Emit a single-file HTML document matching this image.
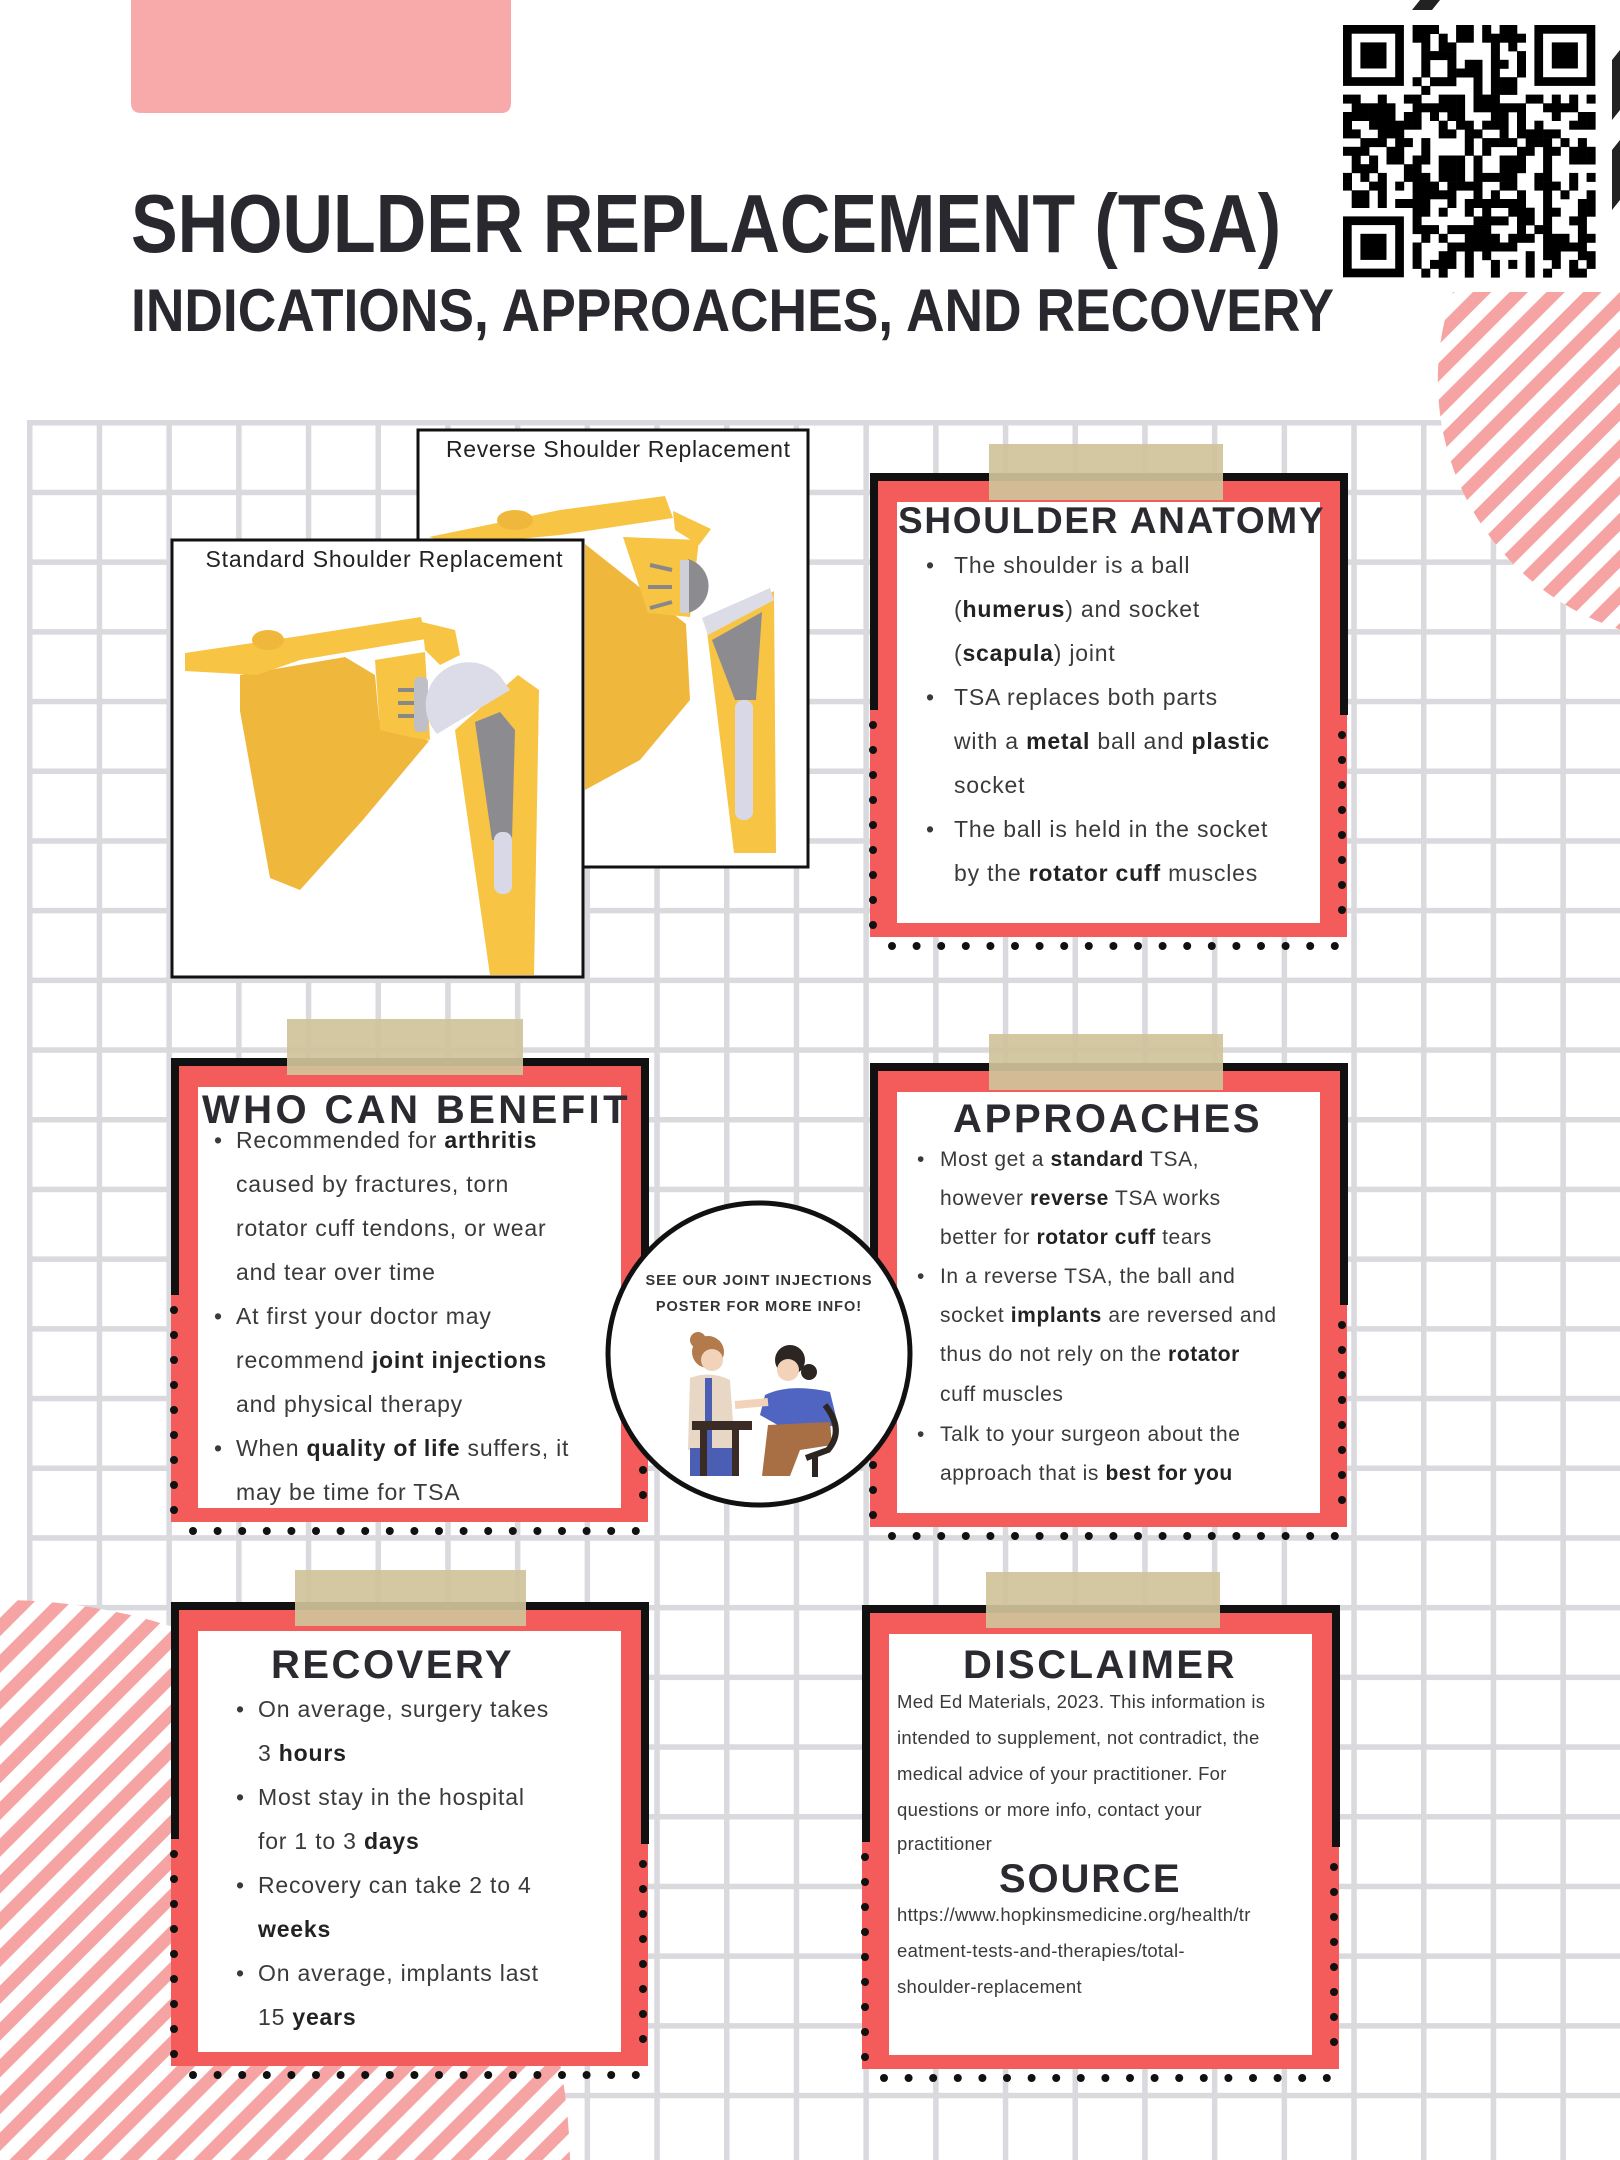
<!DOCTYPE html>
<html><head><meta charset="utf-8"><style>
html,body{margin:0;padding:0;background:#fff;width:1620px;height:2160px;overflow:hidden;position:relative;}
svg{display:block;}
text{font-family:"Liberation Sans",sans-serif;}
.t{font-weight:700;fill:#2a2a30;letter-spacing:2.5px;}
.b{fill:#3a3a3c;font-size:23px;letter-spacing:0.8px;}
.s{fill:#3a3a3c;font-size:21px;letter-spacing:0.6px;}
.d{fill:#3a3a3c;font-size:18.5px;letter-spacing:0.3px;}
tspan.k{font-weight:700;fill:#222;}
</style></head><body>
<svg id="S" width="1620" height="2160" viewBox="0 0 1620 2160" xmlns="http://www.w3.org/2000/svg" style="position:absolute;left:0;top:0">
<defs>
<pattern id="grid" x="27" y="420" width="69.7" height="69.7" patternUnits="userSpaceOnUse">
<rect width="69.7" height="69.7" fill="#fff"/>
<rect x="0" y="0" width="5.5" height="69.7" fill="#d9d9de"/>
<rect x="0" y="0" width="69.7" height="5.5" fill="#d9d9de"/>
</pattern>
<pattern id="str" width="26" height="26" patternUnits="userSpaceOnUse" patternTransform="rotate(45)">
<rect width="26" height="26" fill="#fff"/><rect width="13" height="26" fill="#f6a3a3"/>
</pattern>
</defs>
<rect width="1620" height="2160" fill="#fff"/>
<rect x="27" y="420" width="1593" height="1740" fill="url(#grid)"/>
<path d="M1453,292 A262,262 0 0 0 1620,629.5 L1620,292 Z" fill="url(#str)"/>
<path d="M0,1600 A570,570 0 0 1 570,2160 L0,2160 Z" fill="url(#str)"/>
<g fill="#222"><polygon points="1612,60 1620,50 1620,110 1612,120"/><polygon points="1612,150 1620,140 1620,200 1612,210"/><polygon points="1420,0 1440,0 1432,10 1412,10"/></g>
<path d="M131,0 L511,0 L511,103 Q511,113 501,113 L141,113 Q131,113 131,103 Z" fill="#f8a9a9"/>
<text x="131" y="252" font-size="83" font-weight="700" fill="#28282e" textLength="1150" lengthAdjust="spacingAndGlyphs">SHOULDER REPLACEMENT (TSA)</text>
<text x="131" y="331" font-size="60" font-weight="700" fill="#28282e" textLength="1203" lengthAdjust="spacingAndGlyphs">INDICATIONS, APPROACHES, AND RECOVERY</text>
<g id="qr"></g>

<rect x="418" y="430" width="390" height="437" fill="#fff" stroke="#111" stroke-width="3"/>
<text x="618" y="457" font-size="23" text-anchor="middle" fill="#222" textLength="344">Reverse Shoulder Replacement</text>
<g>
<polygon points="585,544 686,624 690,700 640,760 585,790" fill="#efb83c"/>
<polygon points="429,537 560,510 665,496 673,518 560,535 455,545" fill="#f7c444"/>
<ellipse cx="515" cy="520" rx="18" ry="10" fill="#efb83c"/>
<polygon points="673,511 711,529 699,545 675,530" fill="#f7c444"/>
<polygon points="623,537 699,540 690,617 648,613" fill="#f7c444"/>
<g stroke="#888" stroke-width="4"><line x1="650" y1="565" x2="672" y2="570"/><line x1="648" y1="587" x2="672" y2="587"/><line x1="650" y1="608" x2="672" y2="602"/></g>
<path d="M688,559 A28,28 0 0 1 688,613 Z" fill="#8c8c90"/><rect x="680" y="560" width="9" height="53" fill="#cfcfd8"/>
<polygon points="707,631 774,591 776,853 734,853" fill="#f7c444"/>
<polygon points="702,618 770,588 774,600 708,635" fill="#dcdce6"/>
<polygon points="712,640 762,612 756,700 735,700" fill="#8c8c90"/>
<rect x="735" y="700" width="18" height="120" rx="8" fill="#d8d8e6"/>
</g>

<rect x="172" y="540" width="411" height="437" fill="#fff" stroke="#111" stroke-width="3"/>
<text x="384" y="567" font-size="23" text-anchor="middle" fill="#222" textLength="357">Standard Shoulder Replacement</text>
<g>
<polygon points="240,675 345,657 375,675 379,719 429,741 362,821 300,890 270,878 240,711" fill="#efb83c"/>
<polygon points="185,653 300,636 421,617 426,639 300,660 257,675 185,671" fill="#f7c444"/>
<ellipse cx="268" cy="640" rx="16" ry="10" fill="#efb83c"/>
<polygon points="422,622 455,630 460,655 440,665 425,650" fill="#f7c444"/>
<polygon points="375,660 425,652 430,740 414,738 380,730" fill="#f7c444"/>
<g stroke="#888" stroke-width="4"><line x1="398" y1="690" x2="415" y2="690"/><line x1="398" y1="703" x2="415" y2="703"/><line x1="398" y1="716" x2="415" y2="716"/></g>
<rect x="414" y="677" width="14" height="55" rx="5" fill="#bfbfc8"/>
<polygon points="455,730 518,675 539,690 534,975 490,975" fill="#f7c444"/>
<path d="M437,734 A38,38 0 0 1 500,676 L510,690 Z" fill="#dcdce8"/>
<polygon points="475,722 500,712 515,730 512,840 492,840" fill="#8c8c90"/>
<rect x="494" y="832" width="18" height="62" rx="8" fill="#d8d8e6"/>
</g>

<g id="cards"></g>

<circle cx="759" cy="1354" r="151" fill="#fff" stroke="#111" stroke-width="5"/>
<text x="759" y="1285" font-size="14.5" font-weight="700" text-anchor="middle" fill="#333" letter-spacing="1">SEE OUR JOINT INJECTIONS</text>
<text x="759" y="1311" font-size="14.5" font-weight="700" text-anchor="middle" fill="#333" letter-spacing="1">POSTER FOR MORE INFO!</text>
<g>
<circle cx="708" cy="1352" r="16" fill="#b37a4c"/><circle cx="698" cy="1340" r="8" fill="#b37a4c"/>
<circle cx="712" cy="1360" r="11" fill="#f2d2b8"/>
<path d="M690,1378 Q710,1370 730,1380 L735,1450 L688,1450 Z" fill="#e7d7c4"/>
<rect x="705" y="1378" width="7" height="70" fill="#4a5fb3"/>
<rect x="690" y="1448" width="44" height="28" fill="#4a5fb3"/>
<rect x="692" y="1421" width="60" height="9" fill="#3a2b24"/>
<rect x="700" y="1428" width="7" height="48" fill="#3a2b24"/><rect x="732" y="1428" width="7" height="48" fill="#3a2b24"/>
<circle cx="790" cy="1360" r="15" fill="#2d2522"/><circle cx="809" cy="1372" r="8" fill="#2d2522"/>
<circle cx="788" cy="1370" r="11" fill="#f2d2b8"/>
<path d="M765,1395 Q790,1383 830,1392 L838,1425 L790,1432 L760,1415 Z" fill="#5065c2"/>
<path d="M768,1425 L830,1422 L832,1445 L800,1450 L790,1476 L762,1476 Z" fill="#a86f44"/>
<path d="M825,1405 Q845,1430 828,1450 L806,1458" stroke="#2d2522" stroke-width="6" fill="none"/>
<rect x="812" y="1455" width="6" height="22" fill="#2d2522"/>
<path d="M735,1405 L768,1402" stroke="#f2d2b8" stroke-width="8"/>
</g>
</svg>
<script>
(function(){
var NS="http://www.w3.org/2000/svg",S=document.getElementById("S");
function el(t,a,p){var e=document.createElementNS(NS,t);for(var k in a)e.setAttribute(k,a[k]);(p||S).appendChild(e);return e;}
var q=document.getElementById("qr"),x0=1343,y0=25,m=8.7,N=29,seed=7;
function rnd(){seed=(seed*9301+49297)%233280;return seed/233280;}
el("rect",{x:x0-4,y:y0-4,width:N*m+8,height:N*m+8,fill:"#fff"},q);
function fin(cx,cy){el("rect",{x:x0+cx*m,y:y0+cy*m,width:7*m,height:7*m,fill:"#000"},q);el("rect",{x:x0+(cx+1)*m,y:y0+(cy+1)*m,width:5*m,height:5*m,fill:"#fff"},q);el("rect",{x:x0+(cx+2)*m,y:y0+(cy+2)*m,width:3*m,height:3*m,fill:"#000"},q);}
for(var i=0;i<N;i++)for(var j=0;j<N;j++){var inF=(i<8&&j<8)||(i>=N-8&&j<8)||(i<8&&j>=N-8);if(inF)continue;if(rnd()<0.5)el("rect",{x:(x0+i*m).toFixed(1),y:(y0+j*m).toFixed(1),width:m+0.3,height:m+0.3,fill:"#000"},q);}
fin(0,0);fin(N-7,0);fin(0,N-7);
var C=document.getElementById("cards");
function card(x,y,tx,tw,ty){
 el("rect",{x:x,y:y,width:477,height:464,fill:"#f45b5b"},C);
 el("rect",{x:x+27,y:y+29,width:423,height:421,fill:"#fff"},C);
 el("rect",{x:x,y:y,width:478,height:8,fill:"#111"},C);
 el("rect",{x:x,y:y,width:8,height:237,fill:"#111"},C);
 el("rect",{x:x+470,y:y,width:8,height:242,fill:"#111"},C);
 for(var yy=y+252;yy<=y+468;yy+=25)el("circle",{cx:x+3,cy:yy,r:4,fill:"#111"},C);
 for(var yy2=y+262;yy2<=y+460;yy2+=25)el("circle",{cx:x+472,cy:yy2,r:4,fill:"#111"},C);
 for(var xx=x+22;xx<=x+465;xx+=24.6)el("circle",{cx:xx,cy:y+473,r:4,fill:"#111"},C);
 el("rect",{x:tx,y:ty,width:tw,height:56,fill:"#cfc39a",opacity:"0.92"},C);
}
card(870,473,989,234,444);
card(171,1058,287,236,1019);
card(870,1063,989,234,1034);
card(171,1602,295,231,1570);
card(862,1605,986,234,1572);
})();
</script>
<svg width="1620" height="2160" style="position:absolute;left:0;top:0;pointer-events:none" xmlns="http://www.w3.org/2000/svg">
<text class="t" x="898" y="533" font-size="37" textLength="428">SHOULDER ANATOMY</text>
<g class="b">
<text x="926" y="573">•</text><text x="954" y="573">The shoulder is a ball</text>
<text x="954" y="617">(<tspan class="k">humerus</tspan>) and socket</text>
<text x="954" y="661">(<tspan class="k">scapula</tspan>) joint</text>
<text x="926" y="705">•</text><text x="954" y="705">TSA replaces both parts</text>
<text x="954" y="749">with a <tspan class="k">metal</tspan> ball and <tspan class="k">plastic</tspan></text>
<text x="954" y="793">socket</text>
<text x="926" y="837">•</text><text x="954" y="837">The ball is held in the socket</text>
<text x="954" y="881">by the <tspan class="k">rotator cuff</tspan> muscles</text>
</g>
<text class="t" x="202" y="1123" font-size="40" textLength="428">WHO CAN BENEFIT</text>
<g class="b">
<text x="214" y="1148">•</text><text x="236" y="1148">Recommended for <tspan class="k">arthritis</tspan></text>
<text x="236" y="1192">caused by fractures, torn</text>
<text x="236" y="1236">rotator cuff tendons, or wear</text>
<text x="236" y="1280">and tear over time</text>
<text x="214" y="1324">•</text><text x="236" y="1324">At first your doctor may</text>
<text x="236" y="1368">recommend <tspan class="k">joint injections</tspan></text>
<text x="236" y="1412">and physical therapy</text>
<text x="214" y="1456">•</text><text x="236" y="1456">When <tspan class="k">quality of life</tspan> suffers, it</text>
<text x="236" y="1500">may be time for TSA</text>
</g>
<text class="t" x="953" y="1132" font-size="40" textLength="309">APPROACHES</text>
<g class="s">
<text x="917" y="1166">•</text><text x="940" y="1166">Most get a <tspan class="k">standard</tspan> TSA,</text>
<text x="940" y="1205">however <tspan class="k">reverse</tspan> TSA works</text>
<text x="940" y="1244">better for <tspan class="k">rotator cuff</tspan> tears</text>
<text x="917" y="1283">•</text><text x="940" y="1283">In a reverse TSA, the ball and</text>
<text x="940" y="1322">socket <tspan class="k">implants</tspan> are reversed and</text>
<text x="940" y="1361">thus do not rely on the <tspan class="k">rotator</tspan></text>
<text x="940" y="1401">cuff muscles</text>
<text x="917" y="1441">•</text><text x="940" y="1441">Talk to your surgeon about the</text>
<text x="940" y="1480">approach that is <tspan class="k">best for you</tspan></text>
</g>
<text class="t" x="271" y="1678" font-size="40" textLength="243">RECOVERY</text>
<g class="b">
<text x="236" y="1717">•</text><text x="258" y="1717">On average, surgery takes</text>
<text x="258" y="1761">3 <tspan class="k">hours</tspan></text>
<text x="236" y="1805">•</text><text x="258" y="1805">Most stay in the hospital</text>
<text x="258" y="1849">for 1 to 3 <tspan class="k">days</tspan></text>
<text x="236" y="1893">•</text><text x="258" y="1893">Recovery can take 2 to 4</text>
<text x="258" y="1937"><tspan class="k">weeks</tspan></text>
<text x="236" y="1981">•</text><text x="258" y="1981">On average, implants last</text>
<text x="258" y="2025">15 <tspan class="k">years</tspan></text>
</g>
<text class="t" x="963" y="1678" font-size="40" textLength="274">DISCLAIMER</text>
<g class="d">
<text x="897" y="1708">Med Ed Materials, 2023. This information is</text>
<text x="897" y="1744">intended to supplement, not contradict, the</text>
<text x="897" y="1780">medical advice of your practitioner. For</text>
<text x="897" y="1816">questions or more info, contact your</text>
<text x="897" y="1850">practitioner</text>
</g>
<text class="t" x="999" y="1892" font-size="40" textLength="183">SOURCE</text>
<g class="d">
<text x="897" y="1921">https://www.hopkinsmedicine.org/health/tr</text>
<text x="897" y="1957">eatment-tests-and-therapies/total-</text>
<text x="897" y="1993">shoulder-replacement</text>
</g>
</svg>
</body></html>
